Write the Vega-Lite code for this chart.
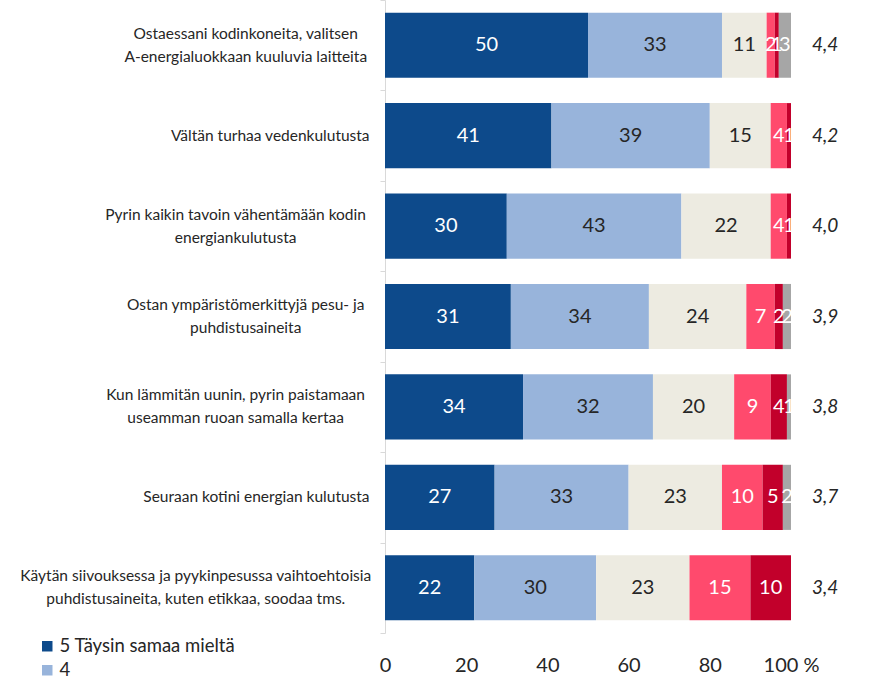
{
  "$schema": "https://vega.github.io/schema/vega-lite/v6.json",
  "autosize": "none",
  "width": 406,
  "height": 633,
  "padding": {"left": 385, "top": 0, "right": 80, "bottom": 44},
  "background": "white",
  "config": {"view": {"stroke": null}, "font": "Lato"},
  "datasets": {
    "bars": [
      {"item": "Ostaessani kodinkoneita, valitsen|A-energialuokkaan kuuluvia laitteita", "cat": "5 Täysin samaa mieltä", "order": 1, "value": 50},
      {"item": "Ostaessani kodinkoneita, valitsen|A-energialuokkaan kuuluvia laitteita", "cat": "4", "order": 2, "value": 33},
      {"item": "Ostaessani kodinkoneita, valitsen|A-energialuokkaan kuuluvia laitteita", "cat": "3", "order": 3, "value": 11},
      {"item": "Ostaessani kodinkoneita, valitsen|A-energialuokkaan kuuluvia laitteita", "cat": "2", "order": 4, "value": 2},
      {"item": "Ostaessani kodinkoneita, valitsen|A-energialuokkaan kuuluvia laitteita", "cat": "1 Täysin eri mieltä", "order": 5, "value": 1},
      {"item": "Ostaessani kodinkoneita, valitsen|A-energialuokkaan kuuluvia laitteita", "cat": "En osaa sanoa", "order": 6, "value": 3},
      {"item": "Vältän turhaa vedenkulutusta", "cat": "5 Täysin samaa mieltä", "order": 1, "value": 41},
      {"item": "Vältän turhaa vedenkulutusta", "cat": "4", "order": 2, "value": 39},
      {"item": "Vältän turhaa vedenkulutusta", "cat": "3", "order": 3, "value": 15},
      {"item": "Vältän turhaa vedenkulutusta", "cat": "2", "order": 4, "value": 4},
      {"item": "Vältän turhaa vedenkulutusta", "cat": "1 Täysin eri mieltä", "order": 5, "value": 1},
      {"item": "Pyrin kaikin tavoin vähentämään kodin|energiankulutusta", "cat": "5 Täysin samaa mieltä", "order": 1, "value": 30},
      {"item": "Pyrin kaikin tavoin vähentämään kodin|energiankulutusta", "cat": "4", "order": 2, "value": 43},
      {"item": "Pyrin kaikin tavoin vähentämään kodin|energiankulutusta", "cat": "3", "order": 3, "value": 22},
      {"item": "Pyrin kaikin tavoin vähentämään kodin|energiankulutusta", "cat": "2", "order": 4, "value": 4},
      {"item": "Pyrin kaikin tavoin vähentämään kodin|energiankulutusta", "cat": "1 Täysin eri mieltä", "order": 5, "value": 1},
      {"item": "Ostan ympäristömerkittyjä pesu- ja|puhdistusaineita", "cat": "5 Täysin samaa mieltä", "order": 1, "value": 31},
      {"item": "Ostan ympäristömerkittyjä pesu- ja|puhdistusaineita", "cat": "4", "order": 2, "value": 34},
      {"item": "Ostan ympäristömerkittyjä pesu- ja|puhdistusaineita", "cat": "3", "order": 3, "value": 24},
      {"item": "Ostan ympäristömerkittyjä pesu- ja|puhdistusaineita", "cat": "2", "order": 4, "value": 7},
      {"item": "Ostan ympäristömerkittyjä pesu- ja|puhdistusaineita", "cat": "1 Täysin eri mieltä", "order": 5, "value": 2},
      {"item": "Ostan ympäristömerkittyjä pesu- ja|puhdistusaineita", "cat": "En osaa sanoa", "order": 6, "value": 2},
      {"item": "Kun lämmitän uunin, pyrin paistamaan|useamman ruoan samalla kertaa", "cat": "5 Täysin samaa mieltä", "order": 1, "value": 34},
      {"item": "Kun lämmitän uunin, pyrin paistamaan|useamman ruoan samalla kertaa", "cat": "4", "order": 2, "value": 32},
      {"item": "Kun lämmitän uunin, pyrin paistamaan|useamman ruoan samalla kertaa", "cat": "3", "order": 3, "value": 20},
      {"item": "Kun lämmitän uunin, pyrin paistamaan|useamman ruoan samalla kertaa", "cat": "2", "order": 4, "value": 9},
      {"item": "Kun lämmitän uunin, pyrin paistamaan|useamman ruoan samalla kertaa", "cat": "1 Täysin eri mieltä", "order": 5, "value": 4},
      {"item": "Kun lämmitän uunin, pyrin paistamaan|useamman ruoan samalla kertaa", "cat": "En osaa sanoa", "order": 6, "value": 1},
      {"item": "Seuraan kotini energian kulutusta", "cat": "5 Täysin samaa mieltä", "order": 1, "value": 27},
      {"item": "Seuraan kotini energian kulutusta", "cat": "4", "order": 2, "value": 33},
      {"item": "Seuraan kotini energian kulutusta", "cat": "3", "order": 3, "value": 23},
      {"item": "Seuraan kotini energian kulutusta", "cat": "2", "order": 4, "value": 10},
      {"item": "Seuraan kotini energian kulutusta", "cat": "1 Täysin eri mieltä", "order": 5, "value": 5},
      {"item": "Seuraan kotini energian kulutusta", "cat": "En osaa sanoa", "order": 6, "value": 2},
      {"item": "Käytän siivouksessa ja pyykinpesussa vaihtoehtoisia|puhdistusaineita, kuten etikkaa, soodaa tms.", "cat": "5 Täysin samaa mieltä", "order": 1, "value": 22},
      {"item": "Käytän siivouksessa ja pyykinpesussa vaihtoehtoisia|puhdistusaineita, kuten etikkaa, soodaa tms.", "cat": "4", "order": 2, "value": 30},
      {"item": "Käytän siivouksessa ja pyykinpesussa vaihtoehtoisia|puhdistusaineita, kuten etikkaa, soodaa tms.", "cat": "3", "order": 3, "value": 23},
      {"item": "Käytän siivouksessa ja pyykinpesussa vaihtoehtoisia|puhdistusaineita, kuten etikkaa, soodaa tms.", "cat": "2", "order": 4, "value": 15},
      {"item": "Käytän siivouksessa ja pyykinpesussa vaihtoehtoisia|puhdistusaineita, kuten etikkaa, soodaa tms.", "cat": "1 Täysin eri mieltä", "order": 5, "value": 10}
    ],
    "means": [
      {"item": "Ostaessani kodinkoneita, valitsen|A-energialuokkaan kuuluvia laitteita", "mean": "4,4"},
      {"item": "Vältän turhaa vedenkulutusta", "mean": "4,2"},
      {"item": "Pyrin kaikin tavoin vähentämään kodin|energiankulutusta", "mean": "4,0"},
      {"item": "Ostan ympäristömerkittyjä pesu- ja|puhdistusaineita", "mean": "3,9"},
      {"item": "Kun lämmitän uunin, pyrin paistamaan|useamman ruoan samalla kertaa", "mean": "3,8"},
      {"item": "Seuraan kotini energian kulutusta", "mean": "3,7"},
      {"item": "Käytän siivouksessa ja pyykinpesussa vaihtoehtoisia|puhdistusaineita, kuten etikkaa, soodaa tms.", "mean": "3,4"}
    ]
  },
  "encoding": {
    "y": {
      "field": "item",
      "type": "nominal",
      "sort": [
        "Ostaessani kodinkoneita, valitsen|A-energialuokkaan kuuluvia laitteita",
        "Vältän turhaa vedenkulutusta",
        "Pyrin kaikin tavoin vähentämään kodin|energiankulutusta",
        "Ostan ympäristömerkittyjä pesu- ja|puhdistusaineita",
        "Kun lämmitän uunin, pyrin paistamaan|useamman ruoan samalla kertaa",
        "Seuraan kotini energian kulutusta",
        "Käytän siivouksessa ja pyykinpesussa vaihtoehtoisia|puhdistusaineita, kuten etikkaa, soodaa tms."
      ],
      "scale": {"paddingInner": 0, "paddingOuter": 0},
      "axis": {
        "title": null,
        "labels": false,
        "tickBand": "extent",
        "tickSize": 5,
        "tickColor": "#d9d9d9",
        "domainColor": "#d9d9d9"
      }
    }
  },
  "layer": [
    {
      "data": {"name": "bars"},
      "mark": {"type": "bar", "height": {"band": 0.72}},
      "encoding": {
        "x": {
          "field": "value",
          "type": "quantitative",
          "stack": "zero",
          "scale": {"domain": [0, 100], "nice": false},
          "axis": {
            "title": null,
            "values": [0, 20, 40, 60, 80, 100],
            "labelExpr": "datum.value == 100 ? '100 %' : datum.label",
            "grid": false,
            "domain": false,
            "ticks": false,
            "labelFontSize": 20,
            "labelColor": "#262626",
            "labelPadding": 22,
            "labelFlush": false
          }
        },
        "order": {"field": "order", "type": "quantitative"},
        "color": {
          "field": "cat",
          "type": "nominal",
          "scale": {
            "domain": ["5 Täysin samaa mieltä", "4", "3", "2", "1 Täysin eri mieltä", "En osaa sanoa"],
            "range": ["#0d4a8b", "#98b4db", "#edebe1", "#ff4a6d", "#c2002b", "#a6a6a6"]
          },
          "legend": {
            "title": null,
            "orient": "none",
            "legendX": -347,
            "legendY": 637,
            "direction": "vertical",
            "symbolType": "square",
            "symbolSize": 110,
            "labelFontSize": 18.5,
            "labelColor": "#262626",
            "labelLimit": 400,
            "rowPadding": 5,
            "labelOffset": 3
          }
        }
      }
    },
    {
      "data": {"name": "bars"},
      "transform": [
        {"stack": "value", "groupby": ["item"], "sort": [{"field": "order"}], "as": ["x0", "x1"]},
        {"calculate": "(datum.x0 + datum.x1) / 2", "as": "mid"}
      ],
      "mark": {"type": "text", "fontSize": 20, "baseline": "middle", "align": "center"},
      "encoding": {
        "x": {"field": "mid", "type": "quantitative"},
        "text": {"field": "value", "type": "quantitative"},
        "color": {
          "condition": {"test": "datum.order == 2 || datum.order == 3", "value": "#262626"},
          "value": "white"
        }
      }
    },
    {
      "data": {"name": "means"},
      "mark": {"type": "text", "fontSize": 19, "fontStyle": "italic", "color": "#262626", "baseline": "middle", "align": "center"},
      "encoding": {
        "x": {"datum": 108.4, "type": "quantitative"},
        "text": {"field": "mean", "type": "nominal"}
      }
    },
    {
      "data": {"name": "means"},
      "transform": [{"filter": "indexof(datum.item, '|') < 0"}],
      "mark": {"type": "text", "fontSize": 15.5, "color": "#262626", "baseline": "middle", "align": "right"},
      "encoding": {
        "x": {"datum": -3.8, "type": "quantitative"},
        "text": {"field": "item", "type": "nominal"}
      }
    },
    {
      "data": {"name": "means"},
      "transform": [{"filter": "indexof(datum.item, 'Ostaessani') == 0 || indexof(datum.item, 'Ostan') == 0"}],
      "mark": {"type": "text", "fontSize": 15.5, "color": "#262626", "baseline": "middle", "align": "center", "lineBreak": "|", "lineHeight": 23, "dy": -11.5},
      "encoding": {
        "x": {"datum": -34.3, "type": "quantitative"},
        "text": {"field": "item", "type": "nominal"}
      }
    },
    {
      "data": {"name": "means"},
      "transform": [{"filter": "indexof(datum.item, 'Pyrin') == 0 || indexof(datum.item, 'Kun') == 0"}],
      "mark": {"type": "text", "fontSize": 15.5, "color": "#262626", "baseline": "middle", "align": "center", "lineBreak": "|", "lineHeight": 23, "dy": -11.5},
      "encoding": {
        "x": {"datum": -36.8, "type": "quantitative"},
        "text": {"field": "item", "type": "nominal"}
      }
    },
    {
      "data": {"name": "means"},
      "transform": [{"filter": "indexof(datum.item, 'Käytän') == 0"}],
      "mark": {"type": "text", "fontSize": 15.5, "color": "#262626", "baseline": "middle", "align": "center", "lineBreak": "|", "lineHeight": 23, "dy": -11.5},
      "encoding": {
        "x": {"datum": -46.6, "type": "quantitative"},
        "text": {"field": "item", "type": "nominal"}
      }
    }
  ]
}
